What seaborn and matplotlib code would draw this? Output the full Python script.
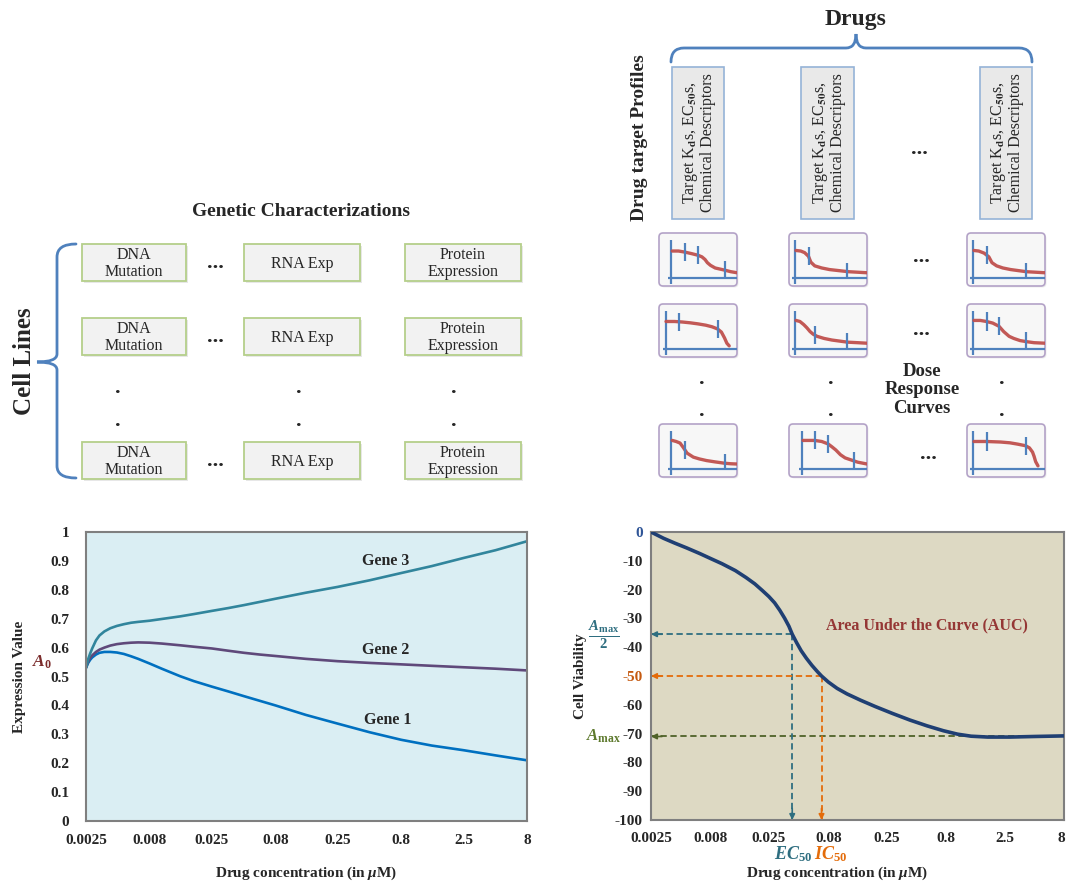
import numpy as np
import pandas as pd
import matplotlib
matplotlib.use("Agg")
import matplotlib.pyplot as plt
import matplotlib.transforms as mtransforms
from matplotlib.patches import Rectangle, FancyBboxPatch, PathPatch
from matplotlib.path import Path
import seaborn as sns

sns.set_style("white")
plt.rcParams["font.family"] = ["Liberation Serif", "DejaVu Serif"]
plt.rcParams["font.weight"] = "bold"
plt.rcParams["mathtext.fontset"] = "custom"
plt.rcParams["mathtext.rm"] = "Liberation Serif:bold"
plt.rcParams["mathtext.it"] = "Liberation Serif:italic:bold"
plt.rcParams["mathtext.bf"] = "Liberation Serif:bold"
plt.rcParams["mathtext.fallback"] = "stix"
plt.rcParams["axes.unicode_minus"] = False

# ---------------- data ----------------
conc_ticks = [0.0025, 0.008, 0.025, 0.08, 0.25, 0.8, 2.5, 8]
conc_tick_labels = ["0.0025", "0.008", "0.025", "0.08", "0.25", "0.8", "2.5", "8"]

gene_conc = [0.0025, 0.0026, 0.0027, 0.0028, 0.003, 0.0032, 0.0035, 0.0039, 0.0044,
             0.005, 0.0057, 0.0065, 0.008, 0.01, 0.014, 0.018, 0.025, 0.034,
             0.045, 0.06, 0.08, 0.14, 0.25, 0.45, 0.8, 1.4, 2.5, 4.5, 8]
gene1_expr = [0.53, 0.547, 0.558, 0.566, 0.576, 0.582, 0.585, 0.585, 0.583,
              0.578, 0.57, 0.561, 0.545, 0.527, 0.501, 0.484, 0.465, 0.448,
              0.432, 0.416, 0.40, 0.367, 0.337, 0.307, 0.281, 0.261, 0.245, 0.227, 0.21]
gene2_expr = [0.53, 0.552, 0.565, 0.573, 0.585, 0.593, 0.60, 0.607, 0.612,
              0.615, 0.617, 0.618, 0.617, 0.614, 0.608, 0.603, 0.597, 0.589,
              0.582, 0.576, 0.571, 0.561, 0.553, 0.547, 0.542, 0.537, 0.532, 0.527, 0.521]
gene3_expr = [0.53, 0.56, 0.58, 0.597, 0.625, 0.642, 0.656, 0.667, 0.675,
              0.681, 0.686, 0.689, 0.693, 0.699, 0.708, 0.716, 0.727, 0.737,
              0.747, 0.758, 0.769, 0.79, 0.81, 0.833, 0.858, 0.882, 0.91, 0.937, 0.968]
gene_names = ["Gene 1", "Gene 2", "Gene 3"]
expr_ticks = [0, 0.1, 0.2, 0.3, 0.4, 0.5, 0.6, 0.7, 0.8, 0.9, 1.0]
expr_tick_labels = ["0", "0.1", "0.2", "0.3", "0.4", "0.5", "0.6", "0.7", "0.8", "0.9", "1"]

viab_conc = [0.0025, 0.0032, 0.004, 0.005, 0.0065, 0.008, 0.01, 0.013, 0.016, 0.019,
             0.022, 0.025, 0.028, 0.031, 0.034, 0.037, 0.0395, 0.043, 0.047, 0.052,
             0.058, 0.064, 0.07, 0.08, 0.095, 0.115, 0.15, 0.2, 0.28, 0.394, 0.55,
             0.757, 1.0, 1.3, 1.8, 2.8, 4.5, 8]
viability = [0, -2.2, -3.9, -5.5, -7.5, -9.2, -11.0, -13.4, -15.8, -18.0,
             -20.3, -22.4, -24.6, -27.2, -29.9, -32.7, -35.5, -38.4, -41.2, -43.8,
             -46.3, -48.3, -50.0, -52.1, -54.3, -56.2, -58.4, -60.6, -63.0, -65.3, -67.3,
             -69.0, -70.2, -70.9, -71.2, -71.2, -71.0, -70.8]
viab_ticks = [0, -10, -20, -30, -40, -50, -60, -70, -80, -90, -100]
viab_tick_labels = ["0", "-10", "-20", "-30", "-40", "-50", "-60", "-70", "-80", "-90", "-100"]
a_max = -71.0
ec50 = 0.0395
ic50 = 0.07

# small dose-response thumbnails (box-relative coordinates)
dr_r1c1_x = [0.17, 0.25, 0.33, 0.42, 0.50, 0.55, 0.59, 0.62, 0.66, 0.72, 0.84, 0.92, 1.0]
dr_r1c1_y = [0.66, 0.66, 0.64, 0.61, 0.58, 0.55, 0.50, 0.44, 0.39, 0.34, 0.30, 0.27, 0.25]
dr_r1c2_x = [0.09, 0.15, 0.20, 0.25, 0.28, 0.33, 0.42, 0.52, 0.64, 0.76, 0.88, 1.0]
dr_r1c2_y = [0.67, 0.66, 0.63, 0.56, 0.45, 0.38, 0.34, 0.31, 0.29, 0.27, 0.26, 0.25]
dr_r1c3_x = [0.09, 0.15, 0.22, 0.28, 0.32, 0.38, 0.46, 0.56, 0.66, 0.76, 0.88, 1.0]
dr_r1c3_y = [0.67, 0.66, 0.62, 0.55, 0.44, 0.38, 0.34, 0.31, 0.29, 0.27, 0.26, 0.25]
dr_r2c1_x = [0.09, 0.20, 0.30, 0.40, 0.50, 0.60, 0.68, 0.75, 0.80, 0.84, 0.87, 0.90]
dr_r2c1_y = [0.67, 0.67, 0.66, 0.645, 0.625, 0.60, 0.57, 0.53, 0.47, 0.36, 0.26, 0.21]
dr_r2c2_x = [0.09, 0.14, 0.19, 0.23, 0.27, 0.31, 0.36, 0.45, 0.55, 0.65, 0.75, 0.88, 1.0]
dr_r2c2_y = [0.69, 0.67, 0.61, 0.55, 0.48, 0.43, 0.39, 0.35, 0.32, 0.30, 0.28, 0.27, 0.26]
dr_r2c3_x = [0.09, 0.17, 0.25, 0.33, 0.41, 0.47, 0.54, 0.60, 0.68, 0.76, 0.86, 1.0]
dr_r2c3_y = [0.69, 0.69, 0.67, 0.64, 0.58, 0.48, 0.39, 0.35, 0.31, 0.29, 0.27, 0.26]
dr_r3c1_x = [0.17, 0.22, 0.27, 0.31, 0.36, 0.44, 0.52, 0.61, 0.72, 0.84, 0.92, 1.0]
dr_r3c1_y = [0.69, 0.67, 0.64, 0.56, 0.45, 0.375, 0.34, 0.31, 0.285, 0.26, 0.25, 0.245]
dr_r3c2_x = [0.18, 0.26, 0.33, 0.42, 0.50, 0.55, 0.60, 0.66, 0.72, 0.79, 0.88, 1.0]
dr_r3c2_y = [0.69, 0.69, 0.69, 0.67, 0.625, 0.57, 0.51, 0.42, 0.36, 0.325, 0.28, 0.245]
dr_r3c3_x = [0.09, 0.25, 0.43, 0.55, 0.65, 0.75, 0.80, 0.84, 0.86, 0.88, 0.91]
dr_r3c3_y = [0.67, 0.67, 0.66, 0.645, 0.62, 0.59, 0.55, 0.47, 0.39, 0.29, 0.21]
dr_axis_x = [[0.16, 0.08, 0.08], [0.085, 0.08, 0.08], [0.16, 0.17, 0.08]]
dr_marks = [[[0.33, 0.50, 0.84], [0.25, 0.75], [0.25, 0.75]],
            [[0.25, 0.75], [0.33, 0.75], [0.25, 0.41, 0.75]],
            [[0.33, 0.84], [0.33, 0.50, 0.83], [0.25, 0.75]]]
dr_curves = [[(dr_r1c1_x, dr_r1c1_y), (dr_r1c2_x, dr_r1c2_y), (dr_r1c3_x, dr_r1c3_y)],
             [(dr_r2c1_x, dr_r2c1_y), (dr_r2c2_x, dr_r2c2_y), (dr_r2c3_x, dr_r2c3_y)],
             [(dr_r3c1_x, dr_r3c1_y), (dr_r3c2_x, dr_r3c2_y), (dr_r3c3_x, dr_r3c3_y)]]

genetic_labels = ["DNA\nMutation", "RNA Exp", "Protein\nExpression"]
drug_label = "Target K$_\\mathrm{d}$s, EC$_{50}$s,\nChemical Descriptors"

# ---------------- figure & canvas ----------------
W, H = 1067, 883
fig = plt.figure(figsize=(W / 100, H / 100), dpi=100)
canvas = fig.add_axes([0, 0, 1, 1])
canvas.set_xlim(0, W)
canvas.set_ylim(H, 0)
canvas.axis("off")


def fig_rect(x0, y0, x1, y1):
    return [x0 / W, 1 - y1 / H, (x1 - x0) / W, (y1 - y0) / H]


def brace(points_codes, color="#4F81BD"):
    verts = [p for p, _ in points_codes]
    codes = [c for _, c in points_codes]
    canvas.add_patch(PathPatch(Path(verts, codes), fill=False, lw=2.0,
                               edgecolor=color, capstyle="round"))


M, L, C3 = Path.MOVETO, Path.LINETO, Path.CURVE3

# ---- genetic characterizations grid ----
canvas.text(301, 212, "Genetic Characterizations", ha="center", va="center",
            fontsize=14, fontweight="bold")
canvas.text(25, 361, "Cell Lines", ha="center", va="center", rotation=90,
            fontsize=18, fontweight="bold")
brace([((76, 244), M), ((57, 244), C3), ((57, 257), C3), ((57, 354), L),
       ((57, 362), C3), ((37, 362), C3), ((57, 362), C3), ((57, 370), C3),
       ((57, 466), L), ((57, 478), C3), ((76, 478), C3)])

gen_cols = [(82, 186), (244, 360), (405, 521)]
gen_rows = [(244, 281), (318, 355), (442, 479)]
for (y0, y1) in gen_rows:
    for (x0, x1), lab in zip(gen_cols, genetic_labels):
        canvas.add_patch(Rectangle((x0 + 2, y0 + 2), x1 - x0, y1 - y0,
                                   facecolor="#BBBBBB", edgecolor="none", alpha=0.35))
        canvas.add_patch(Rectangle((x0, y0), x1 - x0, y1 - y0, facecolor="#F2F2F2",
                                   edgecolor="#B5CF8A", lw=1.3))
        canvas.text((x0 + x1) / 2, (y0 + y1) / 2 + 1, lab, ha="center", va="center",
                    fontsize=11.5, fontweight="normal", linespacing=1.1)
    canvas.text(215, (y0 + y1) / 2, "...", ha="center", va="center",
                fontsize=16, fontweight="bold")
for xd in [118, 299, 454]:
    for yd in [388, 421]:
        canvas.text(xd, yd, ".", ha="center", va="center", fontsize=16, fontweight="bold")

# ---- drugs header ----
canvas.text(856, 20, "Drugs", ha="center", va="center", fontsize=17, fontweight="bold")
brace([((671, 62), M), ((671, 48), C3), ((684, 48), C3), ((846, 48), L),
       ((856, 48), C3), ((856, 34), C3), ((856, 48), C3), ((866, 48), C3),
       ((1019, 48), L), ((1032, 48), C3), ((1032, 62), C3)])
canvas.text(640, 138, "Drug target Profiles", ha="center", va="center", rotation=90,
            fontsize=14, fontweight="bold")
for (x0, x1) in [(672, 724), (801, 854), (980, 1032)]:
    canvas.add_patch(Rectangle((x0, 67), x1 - x0, 152, facecolor="#E9E9E9",
                               edgecolor="#95B3D7", lw=1.2))
    t = canvas.text((x0 + x1) / 2 + 1, 143, drug_label, ha="center", va="center",
                    rotation=90, fontsize=11.5, fontweight="normal", linespacing=1.0)
    t.set_math_fontfamily("stix")
canvas.text(919, 149, "...", ha="center", va="center", fontsize=16, fontweight="bold")

# ---- dose response thumbnails ----
dr_cols = [659, 789, 967]
dr_rows = [233, 304, 424]
bw, bh = 78, 53
for r, y0 in enumerate(dr_rows):
    for c, x0 in enumerate(dr_cols):
        canvas.add_patch(FancyBboxPatch((x0 + 1.5, y0 + 1.5), bw, bh,
                                        boxstyle="round,pad=0,rounding_size=4",
                                        facecolor="#CCCCCC", edgecolor="none", alpha=0.35))
        canvas.add_patch(FancyBboxPatch((x0, y0), bw, bh,
                                        boxstyle="round,pad=0,rounding_size=4",
                                        facecolor="#F7F7F7", edgecolor="#B3A2C7", lw=1.2))
        mini = fig.add_axes(fig_rect(x0, y0, x0 + bw, y0 + bh))
        mini.set_xlim(0, 1)
        mini.set_ylim(0, 1)
        mini.axis("off")
        mini.patch.set_alpha(0)
        ax_x = dr_axis_x[r][c]
        cx, cy = dr_curves[r][c]
        mini.plot([ax_x, ax_x], [0.04, 0.86], color="#4F81BD", lw=1.6, solid_capstyle="butt")
        mini.plot([ax_x - 0.04, 1.0], [0.16, 0.16], color="#4F81BD", lw=1.6, solid_capstyle="butt")
        sns.lineplot(x=cx, y=cy, ax=mini, color="#C0504D", lw=2.4, sort=False,
                     estimator=None, alpha=0.95)
        for mx in dr_marks[r][c]:
            yc = float(np.interp(mx, cx, cy))
            mini.plot([mx, mx], [max(0.16, yc - 0.17), yc + 0.17], color="#4F81BD",
                      lw=1.6, solid_capstyle="butt", zorder=5)
        mini.set_xlabel("")
        mini.set_ylabel("")

for (xd, yd) in [(921, 257), (921, 330), (928, 454)]:
    canvas.text(xd, yd, "...", ha="center", va="center", fontsize=16, fontweight="bold")
for xd in [702, 831, 1002]:
    for yd in [379, 411]:
        canvas.text(xd, yd, ".", ha="center", va="center", fontsize=16, fontweight="bold")
canvas.text(922, 390, "Dose\nResponse\nCurves", ha="center", va="center",
            fontsize=13.5, fontweight="bold", linespacing=1.1)

# ---------------- gene expression chart ----------------
gene_colors = {"Gene 1": "#0070C0", "Gene 2": "#5F497A", "Gene 3": "#31859C"}
genes_df = pd.DataFrame({
    "conc": gene_conc * 3,
    "value": gene1_expr + gene2_expr + gene3_expr,
    "gene": [g for g in gene_names for _ in gene_conc],
})
ax1 = fig.add_axes(fig_rect(86, 532, 527, 821))
ax1.set_facecolor("#DAEEF3")
sns.lineplot(data=genes_df, x="conc", y="value", hue="gene", palette=gene_colors,
             ax=ax1, legend=False, lw=1.9, estimator=None)
ax1.set_xscale("log")
ax1.set_xlim(0.0025, 8)
ax1.set_ylim(0, 1)
ax1.set_xticks(conc_ticks)
ax1.set_xticklabels(conc_tick_labels)
ax1.minorticks_off()
ax1.set_yticks(expr_ticks)
ax1.set_yticklabels(expr_tick_labels)
ax1.tick_params(axis="both", length=0, labelsize=11)
ax1.tick_params(axis="x", pad=9)
ax1.tick_params(axis="y", pad=12)
ax1.set_xlabel("Drug concentration (in $\\mu$M)", fontsize=11, fontweight="bold")
ax1.set_ylabel("Expression Value", fontsize=11, fontweight="bold")
ax1.xaxis.set_label_coords(0.5, -0.15)
ax1.yaxis.set_label_coords(-0.135, 0.5)
for s in ax1.spines.values():
    s.set_color("#7F7F7F")
    s.set_linewidth(1.5)
ax1.text(0.60, 0.90, "Gene 3", ha="center", va="center", fontsize=11.5, fontweight="bold")
ax1.text(0.60, 0.59, "Gene 2", ha="center", va="center", fontsize=11.5, fontweight="bold")
ax1.text(0.63, 0.35, "Gene 1", ha="center", va="center", fontsize=11.5, fontweight="bold")
ax1.text(-0.10, 0.55, "$A_0$", transform=mtransforms.blended_transform_factory(ax1.transAxes, ax1.transData),
         ha="center", va="center", fontsize=12.5, color="#7B2C2C")

# ---------------- cell viability chart ----------------
viab_df = pd.DataFrame({"conc": viab_conc, "viability": viability})
ax2 = fig.add_axes(fig_rect(651, 532, 1064, 820))
ax2.set_facecolor("#DDD9C3")
ec_col, ic_col, am_col = "#2E6E80", "#E46C0A", "#4F6228"
dash = (0, (3.5, 2))

# guide lines for A_max, EC50 and IC50
ax2.plot([8, 0.0025], [a_max, a_max], color=am_col, lw=1.3, linestyle=dash, zorder=1)
ax2.plot([ec50, 0.0025], [a_max / 2, a_max / 2], color=ec_col, lw=1.3, linestyle=dash, zorder=1)
ax2.plot([ec50, ec50], [a_max / 2, -100], color=ec_col, lw=1.3, linestyle=dash, zorder=1)
ax2.plot([ic50, 0.0025], [-50, -50], color=ic_col, lw=1.3, linestyle=dash, zorder=1)
ax2.plot([ic50, ic50], [-50, -100], color=ic_col, lw=1.3, linestyle=dash, zorder=1)
arrow_kw = dict(arrowstyle="-|>", lw=1.2, mutation_scale=8, shrinkA=0, shrinkB=0)
for yv, col in [(a_max, am_col), (a_max / 2, ec_col), (-50, ic_col)]:
    ax2.annotate("", xy=(0.0025, yv), xytext=(0.0031, yv),
                 arrowprops=dict(color=col, **arrow_kw), annotation_clip=False)
for xv, col in [(ec50, ec_col), (ic50, ic_col)]:
    ax2.annotate("", xy=(xv, -100), xytext=(xv, -96),
                 arrowprops=dict(color=col, **arrow_kw), annotation_clip=False)

sns.lineplot(data=viab_df, x="conc", y="viability", ax=ax2, color="#1F3F73",
             lw=2.6, estimator=None, zorder=3)
ax2.set_xscale("log")
ax2.set_xlim(0.0025, 8)
ax2.set_ylim(-100, 0)
ax2.set_xticks(conc_ticks)
# the last label is drawn right-aligned so it stays inside the figure edge
ax2.set_xticklabels(conc_tick_labels[:-1] + [""])
ax2.annotate(conc_tick_labels[-1], xy=(conc_ticks[-1], 0),
             xycoords=mtransforms.blended_transform_factory(ax2.transData, ax2.transAxes),
             xytext=(1, -9), textcoords="offset points", ha="right", va="top",
             fontsize=11, fontweight="bold", annotation_clip=False)
ax2.minorticks_off()
ax2.set_yticks(viab_ticks)
ax2.set_yticklabels(viab_tick_labels)
ax2.tick_params(axis="both", length=0, labelsize=11)
ax2.tick_params(axis="x", pad=9)
ax2.tick_params(axis="y", pad=6)
for lab in ax2.get_yticklabels():
    if lab.get_text() == "0":
        lab.set_color("#2F5597")
    elif lab.get_text() == "-50":
        lab.set_color("#C55A11")
ax2.set_xlabel("Drug concentration (in $\\mu$M)", fontsize=11, fontweight="bold")
ax2.set_ylabel("Cell Viability", fontsize=11, fontweight="bold")
ax2.xaxis.set_label_coords(0.45, -0.155)
ax2.yaxis.set_label_coords(-0.156, 0.5)
for s in ax2.spines.values():
    s.set_color("#7F7F7F")
    s.set_linewidth(1.5)

ax2.text(0.668, 0.674, "Area Under the Curve (AUC)", transform=ax2.transAxes,
         ha="center", va="center", fontsize=11.5, fontweight="bold", color="#953735")
ybl = mtransforms.blended_transform_factory(ax2.transAxes, ax2.transData)
ax2.text(-0.114, a_max / 2, r"$\frac{A_{\mathrm{max}}}{2}$", transform=ybl,
         ha="center", va="center", fontsize=15, color=ec_col)
ax2.text(-0.114, a_max, r"$A_{\mathrm{max}}$", transform=ybl,
         ha="center", va="center", fontsize=12, color="#5E7A2E")
ax2.text(0.344, -0.12, r"$EC_{50}$", transform=ax2.transAxes, ha="center", va="center",
         fontsize=13, color=ec_col)
ax2.text(0.436, -0.12, r"$IC_{50}$", transform=ax2.transAxes, ha="center", va="center",
         fontsize=13, color=ic_col)

fig.savefig("out.png", dpi=100)
